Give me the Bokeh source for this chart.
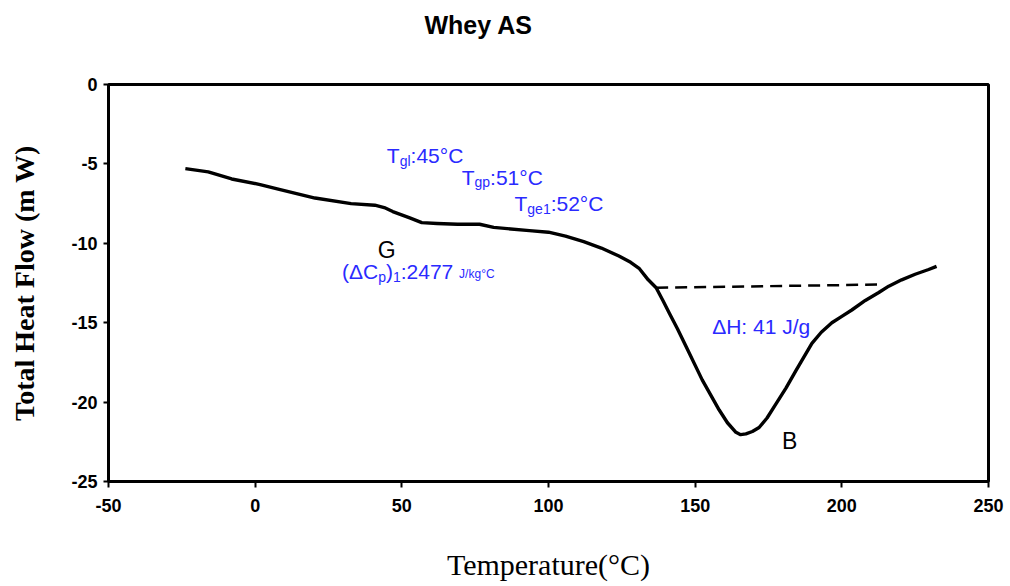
from bokeh.plotting import figure
from bokeh.models import ColumnDataSource, FixedTicker, Title
from bokeh.core.properties import value
from bokeh.embed import file_html
from bokeh.resources import INLINE

# ---- data ----
temperature = [-23.8, -16, -8, 1.7, 8.2, 20.4, 32.7, 40.8, 44, 46.9, 52.7, 56.8, 62, 69, 76.5,
               81.3, 93.5, 100, 105.8, 112, 118, 124, 128, 131, 134, 136.7, 139, 141.2, 144,
               146.9, 152.4, 158.2, 161, 163.9, 165.5, 167.3, 169.5, 171.8, 174.5, 177.6, 181,
               184.4, 189.8, 193, 196.6, 200, 203.4, 208, 212.6, 216, 220.4, 225, 229.6, 232.3]
heat_flow = [-5.3, -5.5, -5.95, -6.3, -6.6, -7.15, -7.5, -7.6, -7.75, -8.0, -8.4, -8.7, -8.75, -8.8, -8.8,
             -9.0, -9.2, -9.3, -9.55, -9.9, -10.3, -10.8, -11.2, -11.6, -12.3, -12.8, -13.6, -14.4, -15.4,
             -16.5, -18.6, -20.5, -21.3, -21.9, -22.05, -22.0, -21.85, -21.6, -21.0, -20.1, -19.1,
             -18.0, -16.3, -15.6, -15.0, -14.6, -14.2, -13.6, -13.1, -12.7, -12.3, -11.95, -11.65, -11.45]

baseline_x = [136.7, 212.0]
baseline_y = [-12.8, -12.6]

x_ticks = [-50, 0, 50, 100, 150, 200, 250]
y_ticks = [-25, -20, -15, -10, -5, 0]

BLUE = "#2a2aff"

p = figure(width=1010, height=586, output_backend="svg", toolbar_location=None,
           x_range=(-50, 250), y_range=(-25, 0),
           min_border_left=108, min_border_right=22, min_border_top=84, min_border_bottom=105,
           background_fill_color="white", border_fill_color="white")

p.xgrid.visible = False
p.ygrid.visible = False
p.outline_line_color = "black"
p.outline_line_width = 3

title = Title(text="Whey AS", align="left", vertical_align="bottom", offset=316, standoff=16,
              text_font="Liberation Sans", text_font_size="25px", text_font_style="bold",
              text_color="black")
spacer = Title(text=" ", text_font_size="2px", standoff=34)
p.title = None
p.above = [spacer, title]

for ax in (p.xaxis[0], p.yaxis[0]):
    ax.axis_line_width = 3
    ax.axis_line_color = "black"
    ax.major_tick_line_width = 2
    ax.major_tick_in = 0
    ax.minor_tick_line_color = None
    ax.major_label_text_font = "Liberation Sans"
    ax.major_label_text_font_style = "bold"
    ax.major_label_text_font_size = "18px"
    ax.major_label_text_color = "black"
    ax.axis_label_text_color = "black"

p.xaxis.ticker = FixedTicker(ticks=x_ticks)
p.yaxis.ticker = FixedTicker(ticks=y_ticks)
p.xaxis.major_label_overrides = {t: str(t) for t in x_ticks}
p.yaxis.major_label_overrides = {t: str(t) for t in y_ticks}
p.xaxis.major_tick_out = 6
p.yaxis.major_tick_out = 5
p.xaxis.major_label_standoff = 11
p.yaxis.major_label_standoff = 6

p.xaxis.axis_label = "Temperature(°C)"
p.xaxis.axis_label_text_font = "Liberation Serif"
p.xaxis.axis_label_text_font_style = "normal"
p.xaxis.axis_label_text_font_size = "30px"
p.xaxis.axis_label_standoff = 33

p.yaxis.axis_label = "Total Heat Flow (m W)"
p.yaxis.axis_label_text_font = "Liberation Serif"
p.yaxis.axis_label_text_font_style = "bold"
p.yaxis.axis_label_text_font_size = "28px"
p.yaxis.axis_label_standoff = 28

# curve and baseline
p.line(temperature, heat_flow, line_color="black", line_width=3.4, line_join="round")
p.line(baseline_x, baseline_y, line_color="black", line_width=2.5, line_dash="12 7")

# ---- annotations with subscripts ----
WIDTH = {'T': .611, 'g': .556, 'l': .222, 'p': .556, 'e': .556, '1': .556, ':': .278,
         '4': .556, '5': .556, '2': .556, '7': .556, '°': .4, 'C': .722, '(': .333,
         ')': .333, 'Δ': .668, 'J': .5, '/': .278, 'k': .5, ' ': .278, 'H': .722,
         'G': .778, 'B': .667}

def text_width(s, size):
    return sum(WIDTH.get(c, .556) for c in s) * size

pieces = dict(x=[], y=[], text=[], dx=[], dy=[], size=[], color=[])

def rich(x, y, parts, color):
    off = 0.0
    for s, size, dy in parts:
        pieces['x'].append(x)
        pieces['y'].append(y)
        pieces['text'].append(s)
        pieces['dx'].append(off)
        pieces['dy'].append(dy)
        pieces['size'].append(f"{size}px")
        pieces['color'].append(color)
        off += text_width(s, size)

rich(44.9, -4.48, [("T", 21, 0), ("gl", 14, 5), (":45°C", 21, 0)], BLUE)
rich(70.4, -5.85, [("T", 21, 0), ("gp", 14, 5), (":51°C", 21, 0)], BLUE)
rich(88.4, -7.51, [("T", 21, 0), ("ge1", 14, 5), (":52°C", 21, 0)], BLUE)
rich(29.6, -11.79, [("(ΔC", 21, 0), ("p", 14, 5), (")", 21, 0), ("1", 14, 5),
                    (":2477 ", 21, 0), ("J/kg°C", 12, 2)], BLUE)
rich(155.8, -15.26, [("ΔH: 41 J/g", 21, 0)], BLUE)
rich(41.8, -10.42, [("G", 23, 0)], "black")
rich(179.6, -22.46, [("B", 23, 0)], "black")

src = ColumnDataSource(pieces)
p.text(x='x', y='y', text='text', x_offset='dx', y_offset='dy', text_font_size='size',
       text_color='color', text_font=value("Liberation Sans"), text_baseline="alphabetic",
       text_align="left", source=src)

open("out.html", "w").write(file_html(p, INLINE))
